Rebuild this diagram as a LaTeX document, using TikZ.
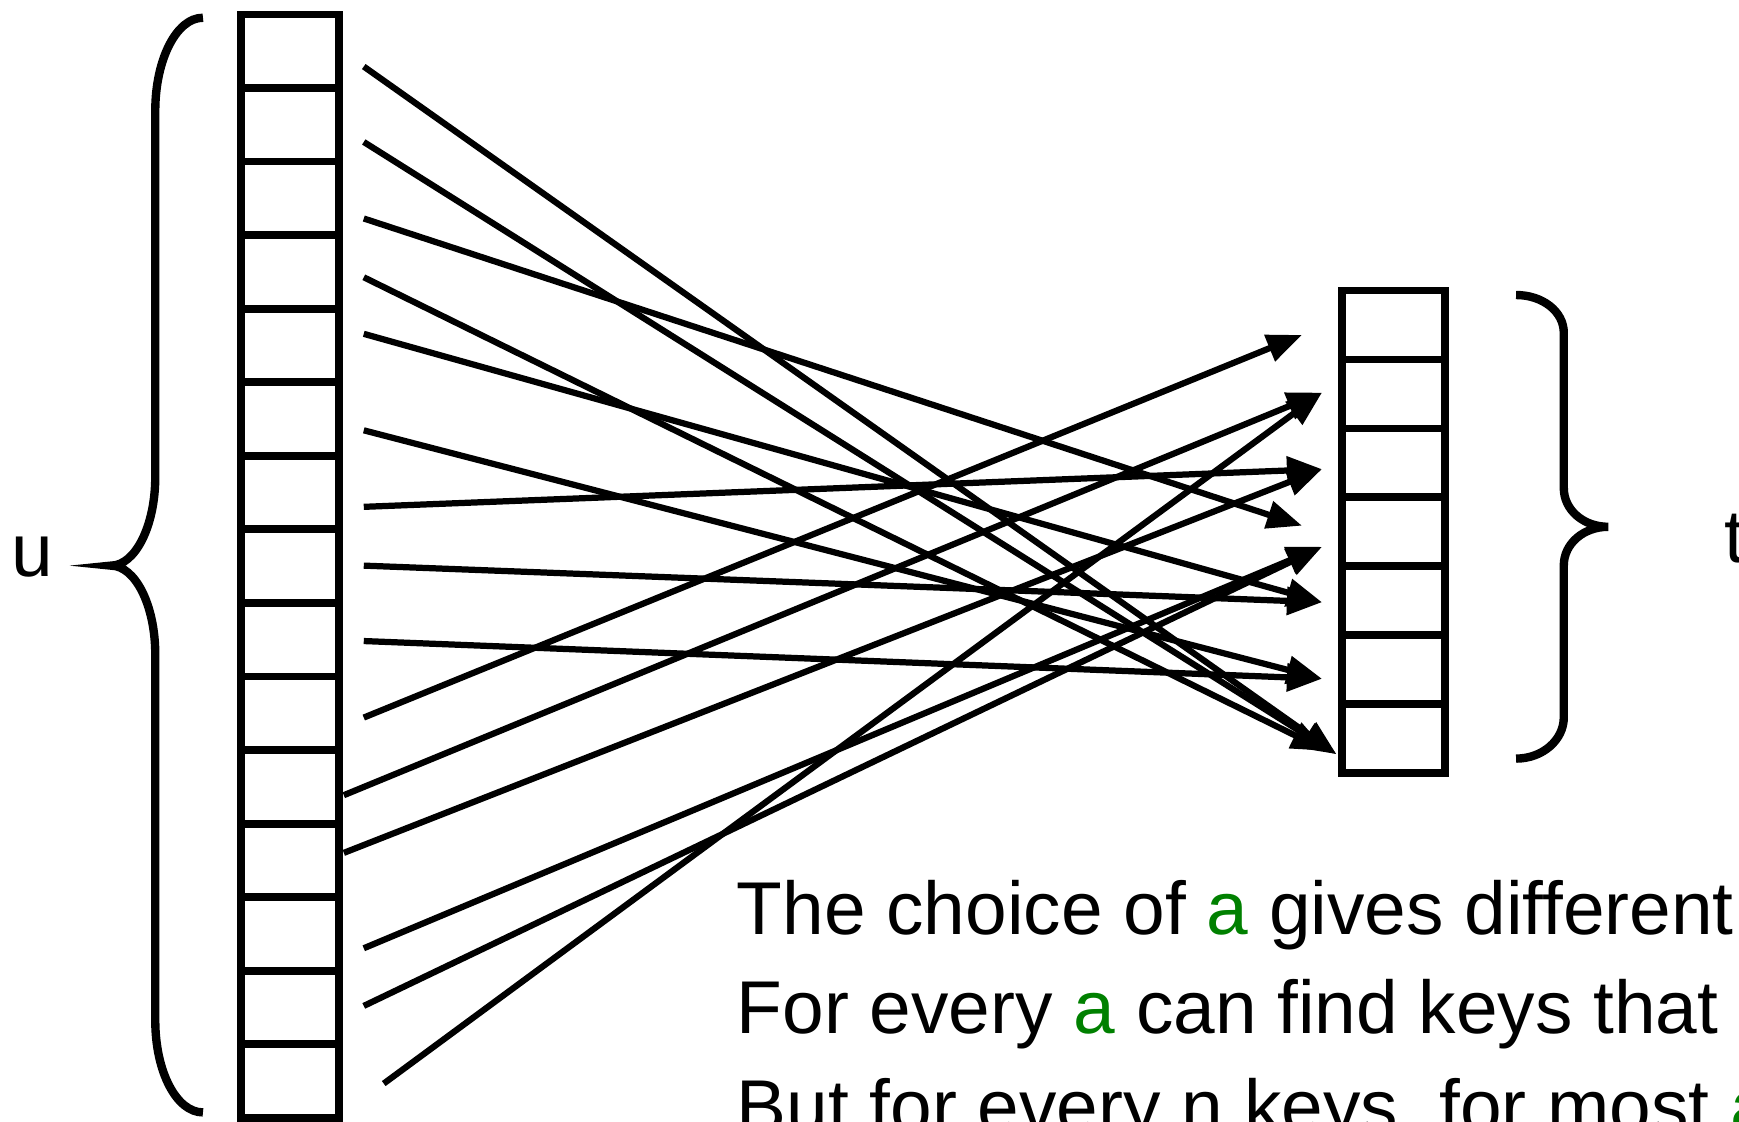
\documentclass[tikz,border=0pt]{standalone}
\usepackage{fontspec}
\setmainfont{Liberation Sans}
\usetikzlibrary{arrows.meta}
\definecolor{agreen}{RGB}{0,128,0}

\begin{document}
\begin{tikzpicture}[
    x=0.02cm, y=-0.02cm,
    slot/.style={rectangle, draw=black, line width=4pt, minimum width=1.78cm, minimum height=1.3266cm, inner sep=0pt},
    bin/.style={rectangle, draw=black, line width=4pt, minimum width=1.86cm, minimum height=1.2428cm, inner sep=0pt},
    hsh/.style={-{Triangle[length=18pt, width=14pt]}, line width=3.2pt},
    brc/.style={line width=4.3pt},
    txt/.style={font=\fontsize{38.4}{50.6}\selectfont, inner sep=0pt, anchor=base west}
]
  \useasboundingbox (0,0) rectangle (1568,1011);
  \clip (0,0) rectangle (1568,1011);

  % universe slots
  \foreach \i in {1,...,15}
    \node[slot] (u\i) at (261.5, {13+66.33*(\i-0.5)}) {};

  % table bins
  \foreach \i in {1,...,7}
    \node[bin] (b\i) at (1256.5, {262+62.14*(\i-0.5)}) {};

  % line starts
  \coordinate (s1) at (328,60);
  \coordinate (s2) at (328,128);
  \coordinate (s3) at (328,197);
  \coordinate (s4) at (328,250);
  \coordinate (s5) at (328,301);
  \coordinate (s6) at (328,388);
  \coordinate (s7) at (328,457);
  \coordinate (s8) at (328,510);
  \coordinate (s9) at (328,578);
  \coordinate (s10) at (328,647);
  \coordinate (s11) at (310,717);
  \coordinate (s12) at (310,769);
  \coordinate (s13) at (328,855);
  \coordinate (s14) at (328,907);
  \coordinate (s15) at (346,977);

  % arrow tips
  \coordinate (t1) at (1174,302);
  \coordinate (t2) at (1192,354);
  \coordinate (t3) at (1192,423);
  \coordinate (t4) at (1174,474);
  \coordinate (t5) at (1192,493);
  \coordinate (t6) at (1192,543);
  \coordinate (t7) at (1192,612);
  \coordinate (t8) at (1205,680);
  \coordinate (t8b) at (1196,677);

  % hashing
  \foreach \s/\t in {s1/t8, s2/t8, s3/t4, s4/t8b, s5/t6, s6/t7, s7/t3, s8/t6,
                     s9/t7, s10/t1, s11/t2, s12/t3, s13/t5, s14/t5, s15/t2}
    \draw[hsh] (\s) -- (\t);

  % braces
  \draw[brc] (183,16) .. controls (159,16) and (140,54) .. (140,100) -- (140,430)
    .. controls (140,474) and (122,510) .. (100,510)
    .. controls (122,510) and (140,546) .. (140,590) -- (140,920)
    .. controls (140,966) and (159,1003) .. (183,1003);
  \draw[brc] (1367,266) .. controls (1391,266) and (1410,281) .. (1410,300) -- (1410,440)
    .. controls (1410,460) and (1428,475) .. (1450,475)
    .. controls (1428,475) and (1410,490) .. (1410,510) -- (1410,647)
    .. controls (1410,667) and (1391,684) .. (1367,684);

  % labels
  \node[txt] (ulab) at (10,520) {u};
  \node[txt] (tlab) at (1555,507) {t};

  % text
  \node[txt] (l1) at (664,843) {The choice of \textcolor{agreen}{a} gives different};
  \node[txt] (l2) at (664,932) {For every \textcolor{agreen}{a} can find keys that};
  \node[txt] (l3) at (664,1021) {But for every n keys, for most \textcolor{agreen}{a}};
\end{tikzpicture}
\end{document}
